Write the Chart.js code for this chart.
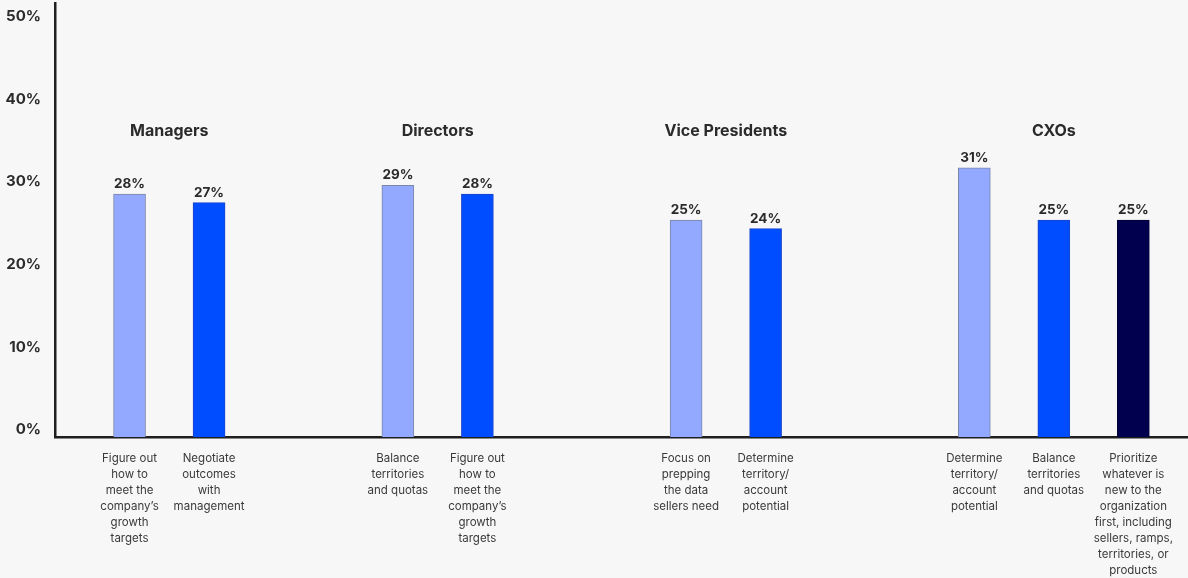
<!DOCTYPE html>
<html lang="en">
<head>
<meta charset="UTF-8">
<title>Top priorities by role</title>
<style>
  html, body { margin: 0; padding: 0; background: #f7f7f7; }
  #wrap { width: 1188px; height: 578px; position: relative; }
</style>
</head>
<body>
<div id="wrap"><canvas id="chart"></canvas></div>
<script src="https://cdn.jsdelivr.net/npm/chart.js@4.4.1/dist/chart.umd.min.js"></script>
<script>
// ---- data ----
const groupNames = ['Managers', 'Directors', 'Vice Presidents', 'CXOs'];
const barGroup = [0, 0, 1, 1, 2, 2, 3, 3, 3];
const barLabels = [
  ['Figure out', 'how to', 'meet the', 'company\u2019s', 'growth', 'targets'],
  ['Negotiate', 'outcomes', 'with', 'management'],
  ['Balance', 'territories', 'and quotas'],
  ['Figure out', 'how to', 'meet the', 'company\u2019s', 'growth', 'targets'],
  ['Focus on', 'prepping', 'the data', 'sellers need'],
  ['Determine', 'territory/', 'account', 'potential'],
  ['Determine', 'territory/', 'account', 'potential'],
  ['Balance', 'territories', 'and quotas'],
  ['Prioritize', 'whatever is', 'new to the', 'organization', 'first, including', 'sellers, ramps,', 'territories, or', 'products']
];
const barValues = [28, 27, 29, 28, 25, 24, 31, 25, 25];
const yTicks = [0, 10, 20, 30, 40, 50];

// ---- layout: narrow category slots, bars sit on some of them ----
const SLOTS = 114;
const GROUP_START = [7, 34, 63, 92];
const STEP = 8;
const FILL = ['#93a9ff', '#004cff', '#00004f'];
const EDGE = ['#7a86a6', '#1a45c8', '#00003a'];
const TITLE_Y = 131;

const labels = new Array(SLOTS).fill('');
const values = new Array(SLOTS).fill(null);
const colors = new Array(SLOTS).fill('transparent');
const edges = new Array(SLOTS).fill('transparent');
const slotOf = [];
let rank = 0, prev = -1;
barValues.forEach((v, i) => {
  const g = barGroup[i];
  rank = g === prev ? rank + 1 : 0;
  prev = g;
  const s = GROUP_START[g] + rank * STEP;
  labels[s] = barLabels[i];
  values[s] = v;
  colors[s] = FILL[rank];
  edges[s] = EDGE[rank];
  slotOf.push(s);
});

// value labels above bars + group titles
const annotate = {
  id: 'annotate',
  afterDatasetsDraw(chart) {
    const ctx = chart.ctx;
    const meta = chart.getDatasetMeta(0);
    const xs = chart.scales.x;
    ctx.save();
    ctx.fillStyle = '#2b2b2b';
    ctx.textAlign = 'center';
    ctx.textBaseline = 'middle';
    ctx.font = '700 13.5px Inter';
    slotOf.forEach((s, i) => {
      const el = meta.data[s];
      ctx.fillText(barValues[i] + '%', el.x, el.y - 10);
    });
    ctx.font = '700 16px Inter';
    groupNames.forEach((name, g) => {
      const px = slotOf.filter((s, i) => barGroup[i] === g).map(s => xs.getPixelForValue(s));
      ctx.fillText(name, (Math.min(...px) + Math.max(...px)) / 2, TITLE_Y);
    });
    ctx.restore();
  }
};

new Chart(document.getElementById('chart'), {
  type: 'bar',
  data: {
    labels: labels,
    datasets: [{
      data: values,
      backgroundColor: colors,
      borderColor: edges,
      borderWidth: 1,
      barThickness: 32
    }]
  },
  options: {
    responsive: true,
    maintainAspectRatio: false,
    animation: false,
    layout: { padding: { left: 5, top: 3, right: 0, bottom: 0 } },
    plugins: { legend: { display: false }, tooltip: { enabled: false } },
    scales: {
      x: {
        afterFit(scale) { scale.height = 141; scale.paddingLeft = 0; scale.paddingRight = 0; },
        grid: { display: false, drawTicks: false },
        border: { display: true, color: '#1f1f1f', width: 2.5 },
        ticks: {
          autoSkip: false, maxRotation: 0, minRotation: 0, padding: 14,
          color: '#3a3a3a',
          font: { family: 'Inter', size: 11.5, lineHeight: 16 / 11.5 }
        }
      },
      y: { display: false, min: 0, max: 50 },
      yt: {
        position: 'left',
        min: -0.85,
        max: 51.6,
        afterBuildTicks(scale) { scale.ticks = yTicks.map(v => ({ value: v })); },
        afterFit(scale) { scale.width = 50; scale.paddingTop = 0; scale.paddingBottom = 0; },
        grid: { display: false, drawTicks: false },
        border: { display: true, color: '#1f1f1f', width: 2.5 },
        ticks: {
          padding: 14,
          color: '#2b2b2b',
          font: { family: 'Inter', size: 15, weight: '700' },
          callback: v => v + '%'
        }
      }
    }
  },
  plugins: [annotate]
});
</script>
</body>
</html>
